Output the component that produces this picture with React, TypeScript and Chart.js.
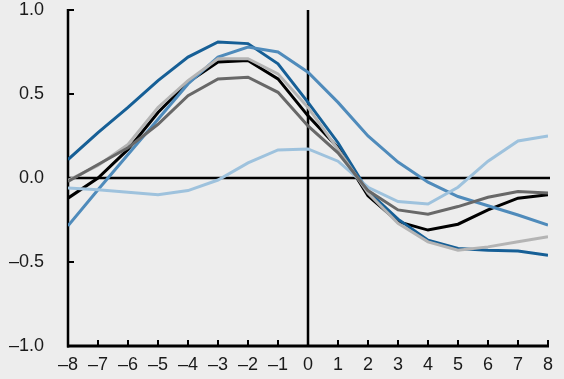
import React, { useEffect, useRef } from "react";
import { Chart, registerables } from "chart.js";

Chart.register(...registerables);

const xValues = [-8, -7, -6, -5, -4, -3, -2, -1, 0, 1, 2, 3, 4, 5, 6, 7, 8];
const yTicks = [-1, -0.5, 0, 0.5, 1];

const darkGray = [-0.02, 0.08, 0.18, 0.32, 0.49, 0.59, 0.6, 0.51, 0.31, 0.15, -0.075, -0.19, -0.215, -0.17, -0.115, -0.08, -0.09];
const lightGray = [-0.015, 0.075, 0.2, 0.42, 0.58, 0.71, 0.71, 0.62, 0.42, 0.17, -0.09, -0.27, -0.38, -0.43, -0.41, -0.38, -0.35];
const lightBlue = [-0.06, -0.07, -0.085, -0.1, -0.075, -0.012, 0.09, 0.167, 0.173, 0.1, -0.055, -0.14, -0.155, -0.055, 0.1, 0.22, 0.25];
const mediumBlue = [-0.285, -0.07, 0.14, 0.35, 0.56, 0.72, 0.78, 0.75, 0.63, 0.45, 0.25, 0.095, -0.025, -0.11, -0.165, -0.22, -0.28];
const darkBlue = [0.11, 0.27, 0.42, 0.58, 0.72, 0.81, 0.8, 0.68, 0.45, 0.21, -0.08, -0.245, -0.37, -0.42, -0.43, -0.435, -0.46];
const black = [-0.12, 0.0, 0.17, 0.39, 0.57, 0.69, 0.7, 0.59, 0.37, 0.18, -0.105, -0.26, -0.31, -0.275, -0.19, -0.12, -0.1];

const seriesList = [
  { name: "darkGray", values: darkGray, color: "#686868" },
  { name: "lightGray", values: lightGray, color: "#b4b4b4" },
  { name: "lightBlue", values: lightBlue, color: "#9ec2dd" },
  { name: "mediumBlue", values: mediumBlue, color: "#4f8bbb" },
  { name: "darkBlue", values: darkBlue, color: "#165f96" },
  { name: "black", values: black, color: "#000000" },
];

const fmt = (v: number, digits?: number) => {
  const s = digits !== undefined ? Math.abs(v).toFixed(digits) : String(Math.abs(v));
  return (v < 0 ? "\u2013" : "") + s;
};

const axesPlugin = {
  id: "customAxes",
  beforeDatasetsDraw(chart: any) {
    const { ctx, chartArea, scales } = chart;
    const { left, right, top, bottom } = chartArea;
    const xs = scales.x;
    const ys = scales.y;
    ctx.save();
    ctx.strokeStyle = "#000";
    ctx.lineCap = "butt";
    const x0 = xs.getPixelForValue(0);
    const y0 = ys.getPixelForValue(0);
    ctx.lineWidth = 2.5;
    ctx.beginPath();
    ctx.moveTo(x0, top);
    ctx.lineTo(x0, bottom);
    ctx.moveTo(left, y0);
    ctx.lineTo(right + 2, y0);
    ctx.stroke();
    ctx.lineWidth = 2.5;
    ctx.beginPath();
    ctx.moveTo(left, top - 1);
    ctx.lineTo(left, bottom + 1.5);
    ctx.stroke();
    ctx.lineWidth = 3;
    ctx.beginPath();
    ctx.moveTo(left - 1, bottom);
    ctx.lineTo(right + 1, bottom);
    ctx.stroke();
    ctx.lineWidth = 2;
    ctx.beginPath();
    for (const v of yTicks) {
      const py = ys.getPixelForValue(v);
      ctx.moveTo(left, py);
      ctx.lineTo(left + 6, py);
    }
    for (const v of xValues) {
      const px = xs.getPixelForValue(v);
      ctx.moveTo(px, bottom);
      ctx.lineTo(px, bottom - 6);
    }
    ctx.stroke();
    ctx.restore();
  },
};

export default function App() {
  const ref = useRef<HTMLCanvasElement | null>(null);
  useEffect(() => {
    if (!ref.current) return;
    Chart.defaults.font.family = '"Liberation Sans", Arial, sans-serif';
    Chart.defaults.font.size = 18;
    Chart.defaults.color = "#1a1a1a";
    const chart = new Chart(ref.current, {
      type: "line",
      data: {
        datasets: seriesList.map((s) => ({
          label: s.name,
          data: xValues.map((x, i) => ({ x, y: s.values[i] })),
          borderColor: s.color,
          borderWidth: 3,
          pointRadius: 0,
          tension: 0,
          fill: false,
        })),
      },
      options: {
        animation: false,
        responsive: false,
        maintainAspectRatio: false,
        layout: { padding: { top: 10, right: 16, left: 0, bottom: 0 } },
        plugins: { legend: { display: false }, tooltip: { enabled: false } },
        scales: {
          x: {
            type: "linear",
            min: -8,
            max: 8,
            grid: { display: false },
            border: { display: false },
            ticks: { stepSize: 1, padding: 0, maxRotation: 0, callback: (v: any) => fmt(Number(v)) },
            afterFit: (s: any) => { s.height = 33; s.paddingLeft = 0; s.paddingRight = 0; },
          },
          y: {
            type: "linear",
            min: -1,
            max: 1,
            grid: { display: false },
            border: { display: false },
            ticks: { stepSize: 0.5, padding: 16, callback: (v: any) => fmt(Number(v), 1) },
            afterFit: (s: any) => { s.width = 68; s.paddingTop = 0; s.paddingBottom = 0; },
          },
        },
      },
      plugins: [axesPlugin],
    });
    return () => chart.destroy();
  }, []);
  return (
    <div style={{ position: "fixed", left: 0, top: 0, width: 564, height: 379, background: "#ededed" }}>
      <canvas ref={ref} width={564} height={379} style={{ display: "block" }} />
    </div>
  );
}
